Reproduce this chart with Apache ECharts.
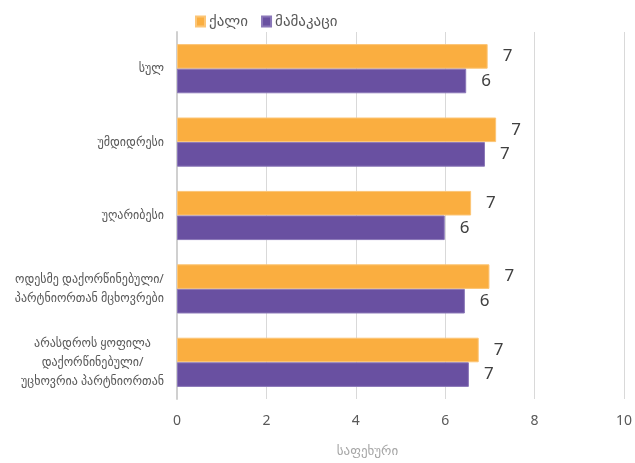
<!DOCTYPE html>
<html>
<head>
<meta charset="utf-8">
<script src="https://cdn.jsdelivr.net/npm/echarts@6/dist/echarts.min.js"></script>
<style>
  html, body { margin: 0; padding: 0; background: #fff; }
  #chart { width: 635px; height: 463px; }
</style>
</head>
<body>
<div id="chart"></div>
<script>
// categories top to bottom
var categories = [
  'სულ',
  'უმდიდრესი',
  'უღარიბესი',
  'ოდესმე დაქორწინებული/\nპარტნიორთან მცხოვრები',
  'არასდროს ყოფილა\nდაქორწინებული/\nუცხოვრია პარტნიორთან'
]
var femaleValues = [6.95, 7.14, 6.58, 6.99, 6.75]
var maleValues = [6.47, 6.89, 5.99, 6.44, 6.53]
var seriesNames = ['ქალი', 'მამაკაცი']
var xTicks = [0, 2, 4, 6, 8, 10]
var axisName = 'საფეხური'

var font = '"Noto Sans", "DejaVu Sans", sans-serif'
var myChart = echarts.init(document.getElementById('chart'))

function barLabel() {
  return {
    show: true,
    position: 'right',
    distance: 15,
    color: '#404040',
    fontSize: 17,
    fontFamily: font,
    formatter: function(p) { return Math.round(p.value) }
  }
}

var option = {
  animation: false,
  legend: {
    data: seriesNames,
    left: 190,
    top: 9,
    itemWidth: 9,
    itemHeight: 10,
    itemGap: 13,
    icon: 'rect',
    textStyle: { fontSize: 15, color: '#595959', fontFamily: font, padding: [0, 0, 0, -1] }
  },
  grid: { left: 177, right: 9, top: 32, bottom: 58 },
  xAxis: {
    type: 'value',
    min: xTicks[0],
    max: xTicks[xTicks.length - 1],
    interval: 2,
    name: axisName,
    nameLocation: 'middle',
    nameGap: 46,
    nameTextStyle: { color: '#A6A6A6', fontSize: 13, fontFamily: font, padding: [0, 66, 0, 0] },
    axisLine: { show: false },
    axisTick: { show: false },
    axisLabel: { color: '#595959', fontSize: 14, fontFamily: font, margin: 15 },
    splitLine: { lineStyle: { color: '#D9D9D9', width: 1 } }
  },
  yAxis: {
    type: 'category',
    inverse: true,
    data: categories,
    axisLine: { show: true, lineStyle: { color: '#D0D0D0', width: 2 } },
    axisTick: { show: false },
    axisLabel: {
      margin: 13,
      // each line centered inside the label block
      formatter: function(v) {
        return v.split('\n').map(function(s) { return '{c|' + s + '}' }).join('\n')
      },
      rich: {
        c: { align: 'center', color: '#595959', fontSize: 12, fontFamily: font, lineHeight: 19 }
      }
    }
  },
  series: [
    {
      name: seriesNames[0],
      type: 'bar',
      data: femaleValues,
      barGap: '0%',
      barCategoryGap: '33%',
      itemStyle: { color: '#FAAE40', borderColor: '#FCC576', borderWidth: 1 },
      label: barLabel()
    },
    {
      name: seriesNames[1],
      type: 'bar',
      data: maleValues,
      barGap: '0%',
      barCategoryGap: '33%',
      itemStyle: { color: '#6950A1', borderColor: '#8A77B8', borderWidth: 1 },
      label: barLabel()
    }
  ]
}
myChart.setOption(option)
</script>
</body>
</html>
